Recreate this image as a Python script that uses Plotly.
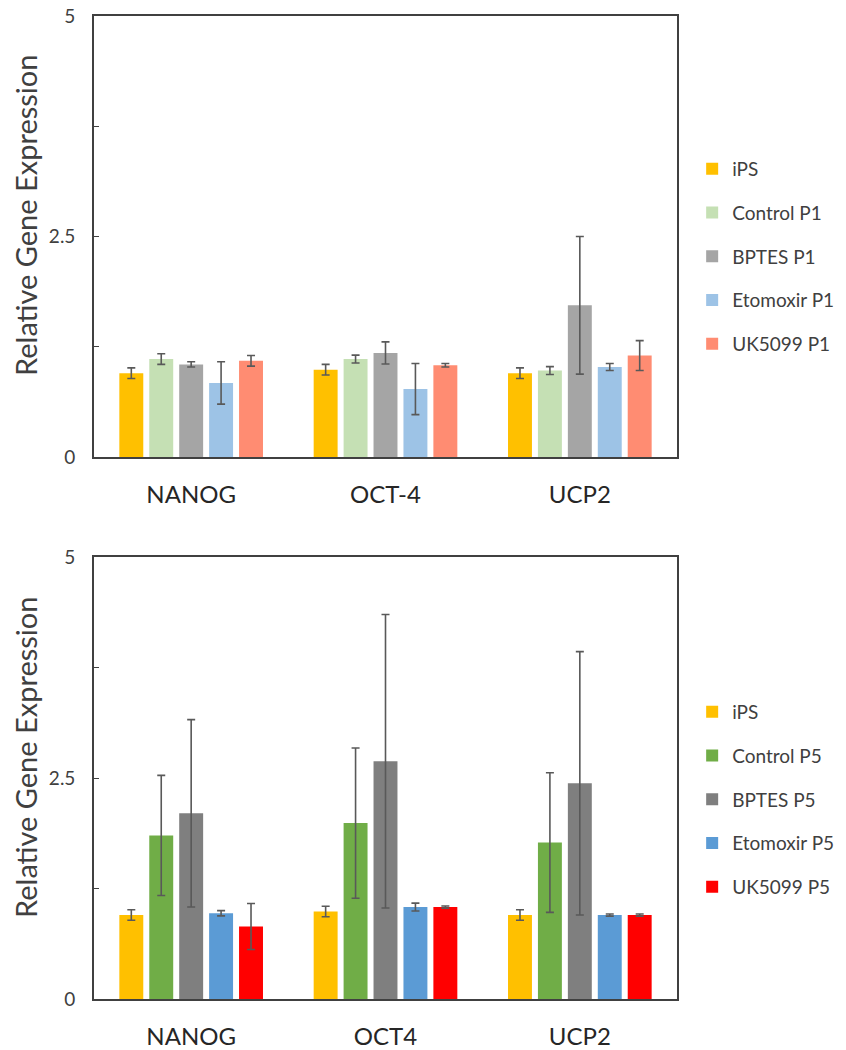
import plotly.graph_objects as go

genes_p1 = ["NANOG", "OCT-4", "UCP2"]
genes_p5 = ["NANOG", "OCT4", "UCP2"]

series_p1 = ["iPS", "Control P1", "BPTES P1", "Etomoxir P1", "UK5099 P1"]
series_p5 = ["iPS", "Control P5", "BPTES P5", "Etomoxir P5", "UK5099 P5"]

colors_p1 = ["#FFC000", "#C5E0B4", "#A5A5A5", "#9DC3E6", "#FF8C72"]
colors_p5 = ["#FFC000", "#70AD47", "#7F7F7F", "#5B9BD5", "#FF0000"]

# values per series across [NANOG, OCT-4, UCP2]
ips_p1 = [0.95, 0.99, 0.95]
ips_p1_err = [0.06, 0.06, 0.06]
control_p1 = [1.11, 1.11, 0.98]
control_p1_err = [0.06, 0.045, 0.045]
bptes_p1 = [1.05, 1.18, 1.72]
bptes_p1_err = [0.03, 0.125, 0.78]
etomoxir_p1 = [0.84, 0.77, 1.02]
etomoxir_p1_err = [0.24, 0.29, 0.04]
uk5099_p1 = [1.09, 1.04, 1.15]
uk5099_p1_err = [0.06, 0.02, 0.17]

ips_p5 = [0.95, 0.99, 0.95]
ips_p5_err = [0.06, 0.06, 0.06]
control_p5 = [1.85, 1.99, 1.77]
control_p5_err = [0.68, 0.85, 0.79]
bptes_p5 = [2.10, 2.69, 2.44]
bptes_p5_err = [1.06, 1.66, 1.49]
etomoxir_p5 = [0.97, 1.04, 0.95]
etomoxir_p5_err = [0.03, 0.045, 0.012]
uk5099_p5 = [0.82, 1.04, 0.95]
uk5099_p5_err = [0.26, 0.012, 0.012]

vals_p1 = [ips_p1, control_p1, bptes_p1, etomoxir_p1, uk5099_p1]
errs_p1 = [ips_p1_err, control_p1_err, bptes_p1_err, etomoxir_p1_err, uk5099_p1_err]
vals_p5 = [ips_p5, control_p5, bptes_p5, etomoxir_p5, uk5099_p5]
errs_p5 = [ips_p5_err, control_p5_err, bptes_p5_err, etomoxir_p5_err, uk5099_p5_err]

y_tickvals = [0, 1.25, 2.5, 3.75, 5]
y_ticktext = ["0", "", "2.5", "", "5"]
y_title = "Relative Gene Expression"

FONT = "Lato, Calibri, sans-serif"
TXT = "#404040"
LINE = "#404040"
ERR = "#595959"

fig = go.Figure()

def add_group(names, colors, vals, errs, cats, xa, ya, legend, tag):
    for i, (n, c, v, e) in enumerate(zip(names, colors, vals, errs)):
        fig.add_trace(go.Bar(
            name=n, x=cats, y=v,
            marker=dict(color=c, line=dict(width=0)),
            error_y=dict(type="data", array=e, visible=True,
                         color=ERR, thickness=1.6, width=4),
            xaxis=xa, yaxis=ya, legend=legend,
            legendgroup=f"{tag}{i}",
        ))

add_group(series_p1, colors_p1, vals_p1, errs_p1, genes_p1, "x", "y", "legend", "a")
add_group(series_p5, colors_p5, vals_p5, errs_p5, genes_p5, "x2", "y2", "legend2", "b")

# page body adds an ~7px offset; positions below are shifted to compensate
OFF = 7
W, H = 846, 1050
ml, mr, mt, mb = 93 - OFF, W - (676 - OFF), 15 - OFF, H - (998 - OFF)
ph = H - mt - mb
pw = W - ml - mr

def ypos(px):
    return (H - mb - (px - OFF)) / ph

def ydom(top_px, bot_px):
    return [ypos(bot_px), ypos(top_px)]

def xpos(px):
    return (px - OFF - ml) / pw

xcommon = dict(
    showline=True, linecolor=LINE, linewidth=1.6, mirror=True,
    ticks="", showgrid=False, zeroline=False, automargin=False,
    tickfont=dict(family=FONT, size=24, color="#262626"),
    ticklabelstandoff=15, domain=[0, 1],
)
ycommon = dict(
    range=[0, 5], tickvals=y_tickvals, ticktext=y_ticktext,
    showline=True, linecolor=LINE, linewidth=1.6, mirror=True,
    ticks="inside", ticklen=5, tickcolor=LINE, tickwidth=1.2,
    showgrid=False, zeroline=False, automargin=False,
    tickfont=dict(family=FONT, size=19, color=TXT),
    ticklabelstandoff=13, ticklabeloverflow="allow",
)

legend_common = dict(
    font=dict(family=FONT, size=19, color=TXT),
    tracegroupgap=16, itemwidth=30, bgcolor="rgba(0,0,0,0)",
    xanchor="left", yanchor="top", x=1.026,
)

title_common = dict(
    text=y_title, xref="paper", yref="paper", showarrow=False,
    textangle=-90, xanchor="center", yanchor="middle",
    font=dict(family=FONT, size=29, color=TXT),
)

fig.update_layout(
    width=W, height=H,
    margin=dict(l=ml, r=mr, t=mt, b=mb, autoexpand=False),
    paper_bgcolor="white", plot_bgcolor="white",
    barmode="group", bargap=0.23, bargroupgap=0.2,
    xaxis=dict(**xcommon, anchor="y"),
    yaxis=dict(**ycommon, domain=ydom(15, 456), anchor="x"),
    xaxis2=dict(**xcommon, anchor="y2"),
    yaxis2=dict(**ycommon, domain=ydom(556, 998), anchor="x2"),
    legend=dict(**legend_common, y=ypos(149)),
    legend2=dict(**legend_common, y=ypos(692)),
    showlegend=True,
    annotations=[
        dict(**title_common, x=xpos(24), y=ypos(215)),
        dict(**title_common, x=xpos(24), y=ypos(757)),
    ],
)

fig.write_html("out.html")
